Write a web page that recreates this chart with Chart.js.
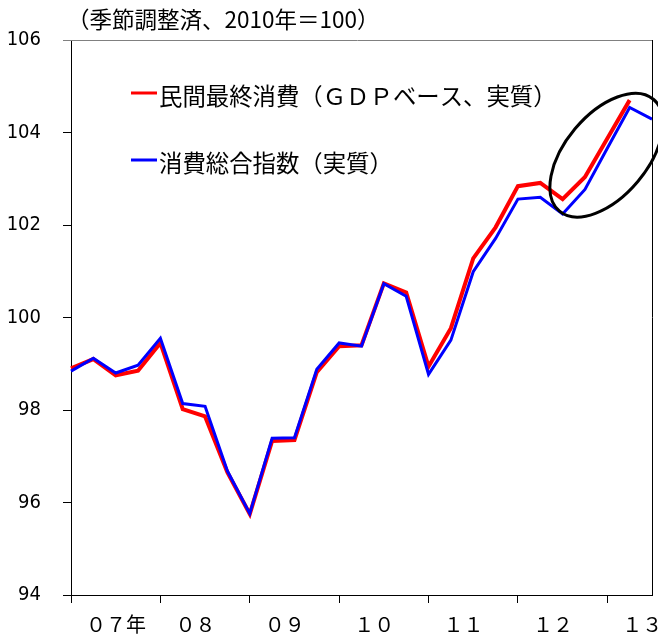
<!DOCTYPE html>
<html>
<head>
<meta charset="utf-8">
<script src="https://cdn.jsdelivr.net/npm/chart.js@4"></script>
<style>
  html, body { margin: 0; padding: 0; background: #fff; }
  #wrap { width: 658px; height: 639px; }
</style>
</head>
<body>
<div id="wrap"><canvas id="chart" width="658" height="639"></canvas></div>
<script>
// quarters 2007Q1 .. 2013Q3
const quarters = [
  "07Q1","07Q2","07Q3","07Q4","08Q1","08Q2","08Q3","08Q4",
  "09Q1","09Q2","09Q3","09Q4","10Q1","10Q2","10Q3","10Q4",
  "11Q1","11Q2","11Q3","11Q4","12Q1","12Q2","12Q3","12Q4",
  "13Q1","13Q2","13Q3"
];
const yearLabels = ["０７年", "０８", "０９", "１０", "１１", "１２", "１３"];

// 民間最終消費（GDPベース、実質）
const gdpConsumption = [
  98.90, 99.10, 98.75, 98.85, 99.45, 98.02, 97.86, 96.65,
  95.75, 97.33, 97.35, 98.82, 99.38, 99.40, 100.74, 100.54,
  98.94, 99.77, 101.28, 101.95, 102.84, 102.91, 102.56, 103.04,
  103.87, 104.70
];
// 消費総合指数（実質）
const consumptionIndex = [
  98.84, 99.12, 98.80, 98.97, 99.55, 98.14, 98.08, 96.68,
  95.76, 97.39, 97.40, 98.88, 99.45, 99.38, 100.73, 100.46,
  98.77, 99.51, 100.99, 101.71, 102.56, 102.60, 102.24, 102.77,
  103.66, 104.54, 104.29
];
const yTicks = [94, 96, 98, 100, 102, 104, 106];

const titleText = "（季節調整済、2010年＝100）";
const legendItems = [
  { text: "民間最終消費（ＧＤＰベース、実質）", color: "#ff0000" },
  { text: "消費総合指数（実質）", color: "#0000ff" }
];

const JP = '"Noto Sans CJK JP", "Noto Sans", sans-serif';

// extra drawing: frame, title, legend, highlight ellipse
const decor = {
  id: "decor",
  afterDraw(chart) {
    const { ctx, chartArea: a, scales } = chart;
    ctx.save();
    // top frame (gray) and right frame (black)
    ctx.lineWidth = 1;
    ctx.strokeStyle = "#808080";
    ctx.beginPath(); ctx.moveTo(a.left - 8, a.top + 0.5); ctx.lineTo(a.right, a.top + 0.5); ctx.stroke();
    ctx.strokeStyle = "#000";
    ctx.beginPath(); ctx.moveTo(a.right + 0.5, a.top); ctx.lineTo(a.right + 0.5, a.bottom); ctx.stroke();

    // title
    ctx.fillStyle = "#000";
    ctx.font = "22.5px " + JP;
    ctx.textBaseline = "middle";
    ctx.textAlign = "left";
    ctx.fillText(titleText, 67, 19);

    // legend
    ctx.font = "23.4px " + JP;
    legendItems.forEach((it, i) => {
      const y = 93 + i * 67;
      ctx.strokeStyle = it.color;
      ctx.lineWidth = 3;
      ctx.beginPath(); ctx.moveTo(131, y); ctx.lineTo(157, y); ctx.stroke();
      ctx.fillStyle = "#000";
      ctx.fillText(it.text, 159, y + 3);
    });

    // ellipse round the last quarters
    const cx = scales.x.getPixelForValue(23.96);
    const cy = scales.y.getPixelForValue(103.51);
    ctx.strokeStyle = "#000";
    ctx.lineWidth = 3;
    ctx.beginPath();
    ctx.ellipse(cx, cy, 73, 41, -50 * Math.PI / 180, 0, Math.PI * 2);
    ctx.stroke();
    ctx.restore();
  }
};

const ctx = document.getElementById("chart").getContext("2d");
new Chart(ctx, {
  type: "line",
  data: {
    labels: quarters,
    datasets: [
      {
        label: legendItems[0].text,
        data: gdpConsumption,
        borderColor: "#ff0000",
        borderWidth: 4,
        pointRadius: 0,
        tension: 0,
        order: 2
      },
      {
        label: legendItems[1].text,
        data: consumptionIndex,
        borderColor: "#0000ff",
        borderWidth: 3,
        pointRadius: 0,
        tension: 0,
        order: 1
      }
    ]
  },
  options: {
    responsive: false,
    animation: false,
    layout: { padding: { top: 40, right: 6, left: 0, bottom: 0 } },
    plugins: { legend: { display: false }, tooltip: { enabled: false }, title: { display: false } },
    scales: {
      x: {
        type: "category",
        offset: false,
        grid: {
          drawOnChartArea: false,
          tickLength: 8,
          color: (c) => (c.index % 4 === 0 ? "#000" : "rgba(0,0,0,0)")
        },
        border: { display: true, color: "#000", width: 1 },
        ticks: {
          autoSkip: false,
          maxRotation: 0,
          align: "start",
          labelOffset: 15,
          padding: 9,
          color: "#000",
          font: { family: JP, size: 20 },
          callback: (v, i) => (i % 4 === 0 ? yearLabels[i / 4] : "")
        },
        afterFit: (s) => { s.height = 44; s.paddingLeft = 0; s.paddingRight = 0; }
      },
      y: {
        min: 94,
        max: 106,
        afterBuildTicks: (s) => { s.ticks = yTicks.map(v => ({ value: v })); },
        grid: { drawOnChartArea: false, tickLength: 8, color: "#000" },
        border: { display: true, color: "#000", width: 1 },
        ticks: {
          padding: 22,
          color: "#000",
          font: { family: '"DejaVu Sans Condensed", "DejaVu Sans", sans-serif', size: 20 }
        },
        afterFit: (s) => { s.width = 71; }
      }
    }
  },
  plugins: [decor]
});
</script>
</body>
</html>
